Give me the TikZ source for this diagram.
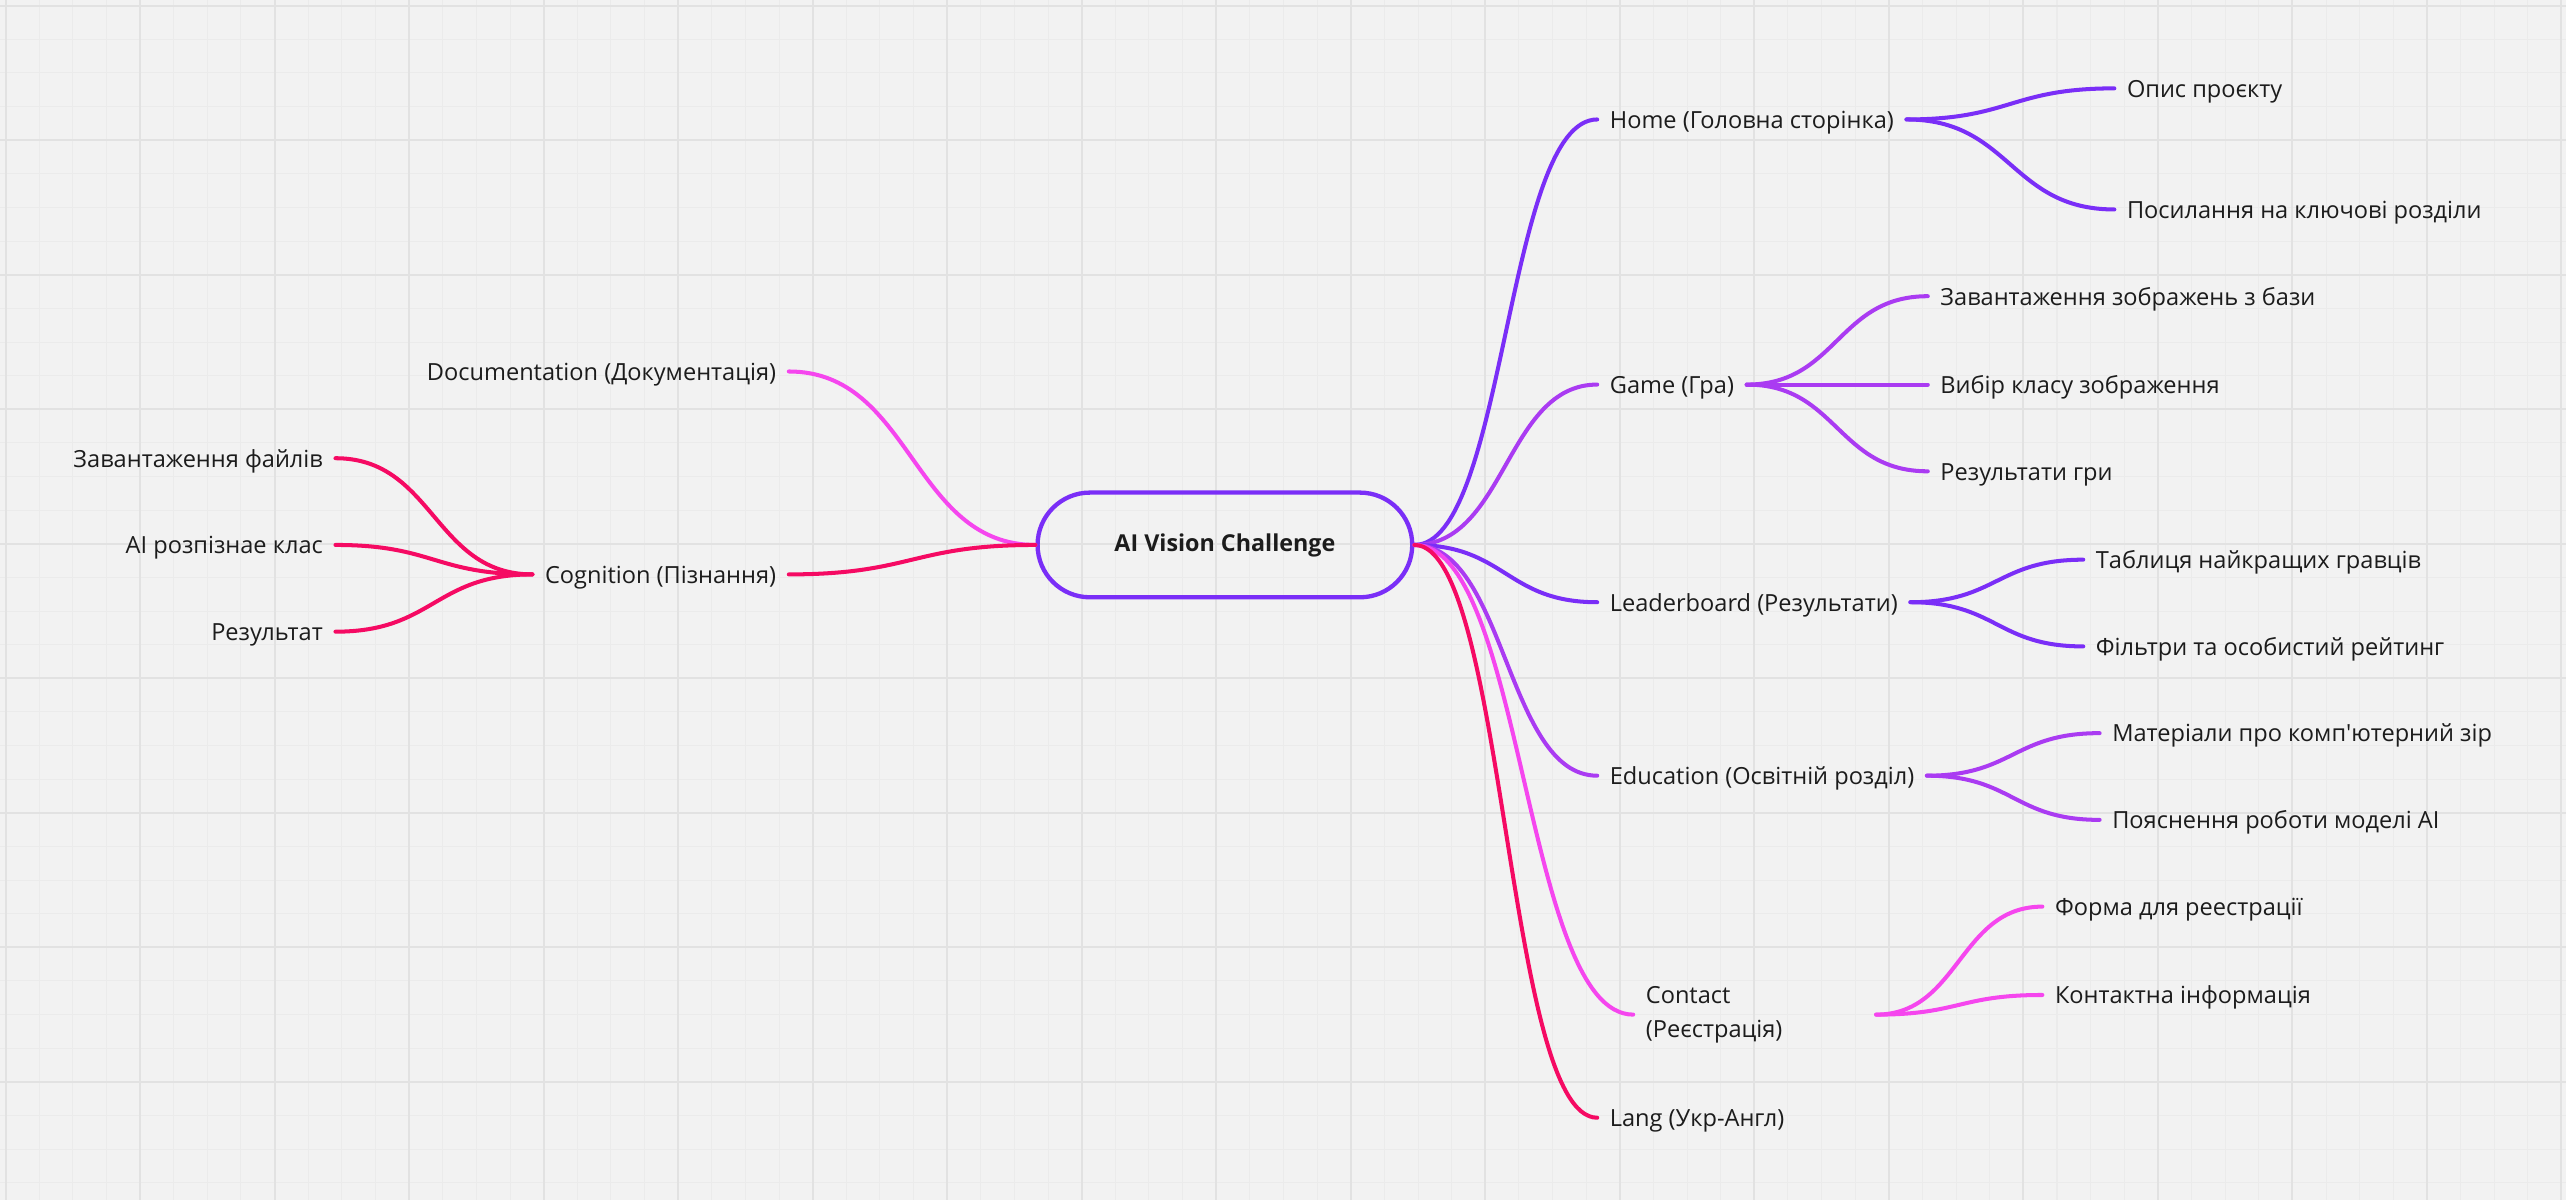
\documentclass[tikz,border=0pt]{standalone}
\usepackage{fontspec}
\setmainfont{Open Sans}[Ligatures=TeXOff]
\usetikzlibrary{calc,positioning}

\definecolor{canvas}{HTML}{F2F2F2}
\definecolor{gridminor}{HTML}{EBEBEB}
\definecolor{gridmajor}{HTML}{E2E2E2}
\definecolor{ink}{HTML}{1C1C1C}
\definecolor{mmPurple}{HTML}{7A2EF7}
\definecolor{mmViolet}{HTML}{AA3BF2}
\definecolor{mmMagenta}{HTML}{F546EE}
\definecolor{mmRose}{HTML}{F50A63}

\begin{document}
\begin{tikzpicture}[
    x=0.02cm, y=-0.02cm,
    minorgrid/.style={gridminor, line width=0.35pt},
    majorgrid/.style={gridmajor, line width=0.7pt},
    rootbox/.style={rectangle, draw=mmPurple, line width=1.5pt, rounded corners=0.64cm, minimum width=4.58cm, minimum height=1.28cm, font=\fontsize{8.1}{11}\selectfont\bfseries, text=ink},
    leaf/.style={font=\fontsize{8.2}{11.8}\selectfont, text=ink, inner xsep=4.2pt, inner ysep=2pt, text height=1.6ex, text depth=.45ex},
    rlabel/.style={leaf, anchor=west},
    llabel/.style={leaf, anchor=east},
    branch/.style={line width=1.4pt, line cap=round,
        to path={let \p1=(\tikztostart), \p2=(\tikztotarget) in
            .. controls ({0.5*(\x1+\x2)},\y1) and ({0.5*(\x1+\x2)},\y2) .. (\tikztotarget)}}
]

% Canvas and grid
\useasboundingbox (0,0) rectangle (1568,733);
\fill[canvas] (0,0) rectangle (1568,733);
\foreach \k in {0,...,76} \draw[minorgrid] ({3.4+\k*20.55},0) -- ({3.4+\k*20.55},733);
\foreach \k in {0,...,35} \draw[minorgrid] (0,{3.5+\k*20.55}) -- (1568,{3.5+\k*20.55});
\foreach \k in {0,...,19} \draw[majorgrid] ({3.4+\k*82.2},0) -- ({3.4+\k*82.2},733);
\foreach \k in {0,...,8} \draw[majorgrid] (0,{3.5+\k*82.2}) -- (1568,{3.5+\k*82.2});

% Central topic
\node[rootbox] (root) at (748.5,333) {AI Vision Challenge};

% Main branches - right
\node[rlabel] (home) at (976,73) {Home (Головна сторінка)};
\node[rlabel] (game) at (976,235) {Game (Гра)};
\node[rlabel] (board) at (976,368) {Leaderboard (Результати)};
\node[rlabel] (edu) at (976,474) {Education (Освітній розділ)};
\node[leaf, anchor=west, text width=2.66cm, align=left, text height=, text depth=] (contact) at (998,620) {Contact\\(Реєстрація)};
\node[rlabel] (lang) at (976,683) {Lang (Укр-Англ)};

% Main branches - left
\node[llabel] (docs) at (482,227) {Documentation (Документація)};
\node[llabel] (cogn) at (482,351) {Cognition (Пізнання)};

% Sub-topics
\node[rlabel] (about) at (1292,54) {Опис проєкту};
\node[rlabel] (links) at (1292,128) {Посилання на ключові розділи};
\node[rlabel] (imgload) at (1178,181) {Завантаження зображень з бази};
\node[rlabel] (classpick) at (1178,235) {Вибір класу зображення};
\node[rlabel] (gameres) at (1178,288) {Результати гри};
\node[rlabel] (toptable) at (1273,342) {Таблиця найкращих гравців};
\node[rlabel] (filters) at (1273,395) {Фільтри та особистий рейтинг};
\node[rlabel] (cvdocs) at (1283,448) {Матеріали про комп'ютерний зір};
\node[rlabel] (explain) at (1283,501) {Пояснення роботи моделі AI};
\node[rlabel] (regform) at (1248,554) {Форма для реестрації};
\node[rlabel] (contactinfo) at (1248,608) {Контактна інформація};
\node[llabel] (fileup) at (205,280) {Завантаження файлів};
\node[llabel] (recog) at (205,333) {AI розпізнае клас};
\node[llabel] (result) at (205,386) {Результат};

% Root connectors
\draw[branch, mmPurple] (root.east) to (home.west);
\draw[branch, mmViolet] (root.east) to (game.west);
\draw[branch, mmPurple] (root.east) to (board.west);
\draw[branch, mmViolet] (root.east) to (edu.west);
\draw[branch, mmMagenta] (root.east) to (contact.west);
\draw[branch, mmRose] (root.east) to (lang.west);
\draw[branch, mmMagenta] (root.west) to (docs.east);
\draw[branch, mmRose] (root.west) to (cogn.east);

% Sub-topic connectors
\draw[branch, mmPurple] (home.east) to (about.west);
\draw[branch, mmPurple] (home.east) to (links.west);
\draw[branch, mmViolet] (game.east) to (imgload.west);
\draw[branch, mmViolet] (game.east) to (classpick.west);
\draw[branch, mmViolet] (game.east) to (gameres.west);
\draw[branch, mmPurple] (board.east) to (toptable.west);
\draw[branch, mmPurple] (board.east) to (filters.west);
\draw[branch, mmViolet] (edu.east) to (cvdocs.west);
\draw[branch, mmViolet] (edu.east) to (explain.west);
\draw[branch, mmMagenta] (contact.east) to (regform.west);
\draw[branch, mmMagenta] (contact.east) to (contactinfo.west);
\draw[branch, mmRose] (cogn.west) to (fileup.east);
\draw[branch, mmRose] (cogn.west) to (recog.east);
\draw[branch, mmRose] (cogn.west) to (result.east);

\end{tikzpicture}
\end{document}
